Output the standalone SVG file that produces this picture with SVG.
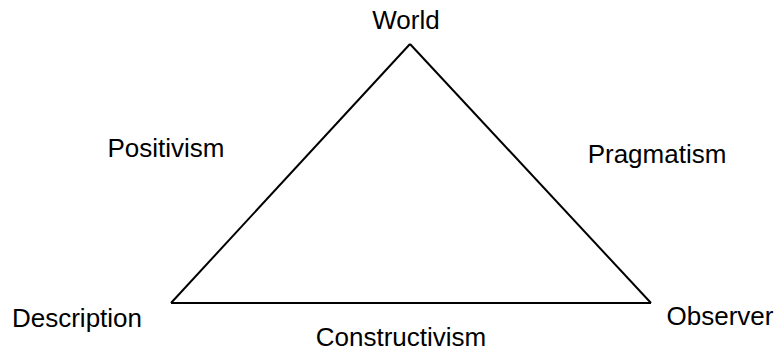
<svg xmlns="http://www.w3.org/2000/svg" width="776" height="351" viewBox="0 0 776 351">
<style>
text{font-family:"Liberation Sans",Arial,sans-serif;font-size:26px;fill:#000;text-anchor:middle}
.edge{fill:none;stroke:#000;stroke-width:2}
</style>
<rect width="776" height="351" fill="#fff"/>
<g id="connectors">
<line class="edge" x1="410" y1="44" x2="171" y2="303"/>
<line class="edge" x1="410" y1="44" x2="651" y2="303"/>
<line class="edge" x1="171" y1="303" x2="651" y2="303"/>
</g>
<g id="world"><text x="406" y="29">World</text></g>
<g id="description"><text x="77" y="327">Description</text></g>
<g id="observer"><text x="720" y="325">Observer</text></g>
<g id="positivism"><text x="166" y="157">Positivism</text></g>
<g id="pragmatism"><text x="657" y="163">Pragmatism</text></g>
<g id="constructivism"><text x="401" y="346">Constructivism</text></g>
</svg>
